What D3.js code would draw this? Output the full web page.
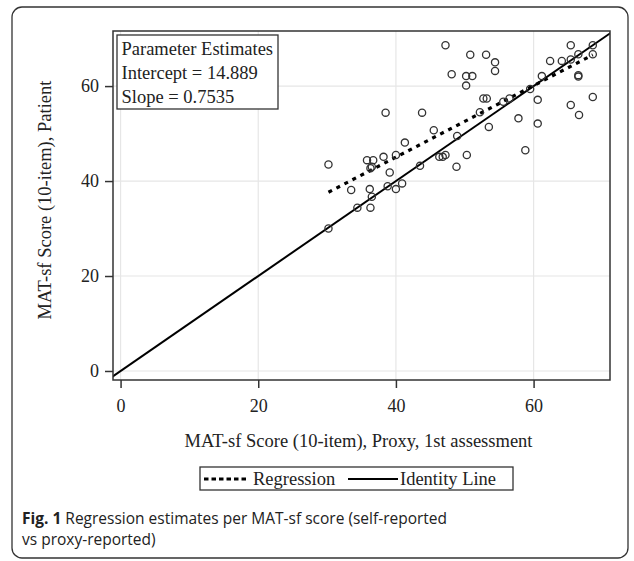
<!DOCTYPE html>
<html>
<head>
<meta charset="utf-8">
<script src="https://cdn.jsdelivr.net/npm/d3@7"></script>
<style>
  body { margin: 0; background: #fff; }
  .chart text { fill: #222; }
</style>
</head>
<body>
<div class="chart"></div>
<script>
// Data: proxy score (x) vs patient score (y)
const proxy = [47.2, 50.8, 53.1, 54.4, 54.4, 48.1, 50.2, 51.1, 50.2, 52.7, 53.2,
  38.5, 43.8, 45.5, 48.9, 52.2, 53.5, 41.3, 35.8, 36.7, 38.2, 40.0, 36.3, 36.5,
  39.1, 43.5, 46.3, 46.8, 47.2, 50.3, 48.8, 38.8, 40.0, 40.9, 36.2, 36.5, 36.3,
  34.4, 33.5, 30.2, 30.2, 55.6, 56.5, 59.5, 57.8, 58.8, 60.6, 60.6, 61.2, 62.4,
  64.1, 65.4, 66.5, 65.4, 66.5, 66.5, 68.6, 68.6, 68.6, 65.4, 66.6];
const patient = [68.6, 66.6, 66.6, 65.0, 63.2, 62.5, 62.1, 62.1, 60.1, 57.4, 57.4,
  54.4, 54.4, 50.7, 49.5, 54.5, 51.4, 48.1, 44.4, 44.4, 45.1, 45.5, 42.7, 43.0,
  41.8, 43.2, 45.1, 45.1, 45.5, 45.5, 43.0, 38.9, 38.3, 39.5, 38.3, 36.7, 34.4,
  34.4, 38.1, 43.5, 30.0, 56.7, 57.4, 59.4, 53.2, 46.5, 57.1, 52.1, 62.1, 65.3,
  65.3, 68.6, 66.7, 65.6, 62.3, 62.0, 68.6, 66.7, 57.7, 56.0, 53.9];
const tickVals = [0, 20, 40, 60];
const intercept = 14.889, slope = 0.7535;
const estimateLines = ["Parameter Estimates", "Intercept = 14.889", "Slope = 0.7535"];
const legendItems = ["Regression", "Identity Line"];

const margin = { top: 31, right: 24, bottom: 181, left: 113 };
const W = 634, H = 561;
const width = W - margin.left - margin.right,
    height = H - margin.top - margin.bottom;
const serif = "'Liberation Serif', 'DejaVu Serif', serif";

const xScale = d3.scaleLinear().domain([-1.1, 71.1]).range([0, width]);
const yScale = d3.scaleLinear().domain([-1.9, 71.6]).range([height, 0]);

const root = d3.select(".chart").append("svg")
    .attr("width", W).attr("height", H);

// outer rounded frame
root.append("rect")
    .attr("x", 12).attr("y", 7).attr("width", 616).attr("height", 551)
    .attr("rx", 10)
    .attr("fill", "none").attr("stroke", "#333").attr("stroke-width", 1.3);

const svg = root.append("g")
    .attr("transform", `translate(${margin.left},${margin.top})`);

svg.append("clipPath").attr("id", "plot-clip")
    .append("rect").attr("width", width).attr("height", height);

// gridlines
svg.append("g").selectAll("line.vg").data(tickVals).enter().append("line")
    .attr("x1", (d) => xScale(d)).attr("x2", (d) => xScale(d))
    .attr("y1", 0).attr("y2", height)
    .attr("stroke", "#e6e6e6").attr("stroke-width", 1.2);
svg.append("g").selectAll("line.hg").data(tickVals).enter().append("line")
    .attr("y1", (d) => yScale(d)).attr("y2", (d) => yScale(d))
    .attr("x1", 0).attr("x2", width)
    .attr("stroke", "#e6e6e6").attr("stroke-width", 1.2);

// axes
const xAxis = d3.axisBottom(xScale).tickValues(tickVals).tickSize(8).tickPadding(11);
const yAxis = d3.axisLeft(yScale).tickValues(tickVals).tickSize(8).tickPadding(6);

const gx = svg.append("g").attr("transform", `translate(0,${height})`).call(xAxis);
const gy = svg.append("g").call(yAxis);
[gx, gy].forEach((g) => {
    g.select(".domain").remove();
    g.selectAll("line").attr("stroke", "#333").attr("stroke-width", 1.5);
    g.selectAll("text").attr("font-family", serif).attr("font-size", 18).attr("fill", "#222");
});

const plot = svg.append("g").attr("clip-path", "url(#plot-clip)");

// identity line
plot.append("line")
    .attr("x1", xScale(-2)).attr("y1", yScale(-2))
    .attr("x2", xScale(75)).attr("y2", yScale(75))
    .attr("stroke", "#000").attr("stroke-width", 2);

// regression line over the data range
const xr = d3.extent(proxy);
plot.append("line")
    .attr("x1", xScale(xr[0])).attr("y1", yScale(intercept + slope * xr[0]))
    .attr("x2", xScale(xr[1])).attr("y2", yScale(intercept + slope * xr[1]))
    .attr("stroke", "#000").attr("stroke-width", 3.2)
    .attr("stroke-dasharray", "4,5");

// points
plot.selectAll("circle").data(proxy).enter().append("circle")
    .attr("cx", (d) => xScale(d))
    .attr("cy", (d, i) => yScale(patient[i]))
    .attr("r", 3.6)
    .attr("fill", "none").attr("stroke", "#333").attr("stroke-width", 1.3);

// plot frame
svg.append("rect").attr("width", width).attr("height", height)
    .attr("fill", "none").attr("stroke", "#333").attr("stroke-width", 1.5);

// parameter estimates box
svg.append("rect")
    .attr("x", 4).attr("y", 4).attr("width", 161).attr("height", 74)
    .attr("fill", "#fff").attr("stroke", "#333").attr("stroke-width", 1.3);
svg.selectAll("text.est").data(estimateLines).enter().append("text")
    .attr("class", "est")
    .attr("x", 8.5).attr("y", (d, i) => 24 + i * 23.8)
    .attr("font-family", serif).attr("font-size", 18.5)
    .text((d) => d);

// axis titles
svg.append("text")
    .attr("x", width / 2 - 3).attr("y", height + 67)
    .attr("text-anchor", "middle")
    .attr("font-family", serif).attr("font-size", 18.5)
    .text("MAT-sf Score (10-item), Proxy, 1st assessment");
svg.append("text")
    .attr("transform", `translate(${51 - margin.left},${200 - margin.top}) rotate(-90)`)
    .attr("text-anchor", "middle")
    .attr("font-family", serif).attr("font-size", 18.5)
    .text("MAT-sf Score (10-item), Patient");

// legend
const lg = root.append("g");
lg.append("rect").attr("x", 200).attr("y", 467).attr("width", 313).attr("height", 23)
    .attr("fill", "#fff").attr("stroke", "#333").attr("stroke-width", 1.3);
lg.append("line").attr("x1", 204).attr("x2", 248).attr("y1", 479).attr("y2", 479)
    .attr("stroke", "#000").attr("stroke-width", 3.2).attr("stroke-dasharray", "4.5,3");
lg.append("line").attr("x1", 348).attr("x2", 398).attr("y1", 479).attr("y2", 479)
    .attr("stroke", "#000").attr("stroke-width", 2);
lg.selectAll("text").data(legendItems).enter().append("text")
    .attr("x", (d, i) => [253, 400][i]).attr("y", 485)
    .attr("font-family", serif).attr("font-size", 18.5)
    .text((d) => d);

// caption
const cap = root.append("text")
    .attr("font-family", "'Open Sans', 'Noto Sans', sans-serif").attr("font-size", 15.5)
    .attr("fill", "#222");
const l1 = cap.append("tspan").attr("x", 22).attr("y", 524);
l1.append("tspan").attr("font-weight", "bold").text("Fig. 1");
l1.append("tspan").text(" Regression estimates per MAT-sf score (self-reported");
cap.append("tspan").attr("x", 22).attr("y", 545).text("vs proxy-reported)");
</script>
</body>
</html>
